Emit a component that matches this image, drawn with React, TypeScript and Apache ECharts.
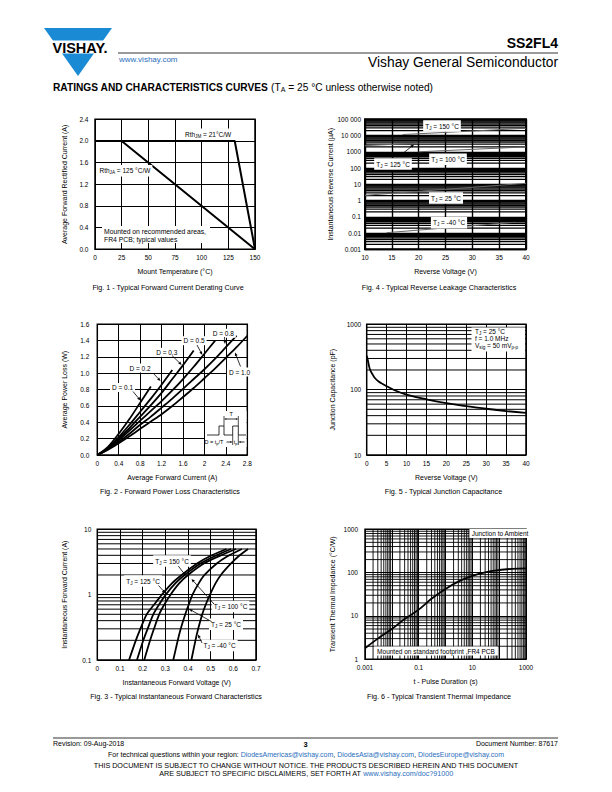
import React, { useEffect, useRef } from 'react';
import * as echarts from 'echarts';

const FONT = '"Liberation Sans", Arial, Helvetica, sans-serif';
const BLUE = '#1a8ad4';
const LINK = '#2a6ebd';

// ===== Fig. 1 - Forward current derating =====
const fig1RthJM: number[][] = [[0, 2.0], [131, 2.0], [150, 0]];
const fig1RthJA: number[][] = [[0, 2.0], [25, 2.0], [150, 0]];

// ===== Fig. 2 - Forward power loss =====
const fig2D01 = [[0, 0], [0.2, 0.1], [0.4, 0.26], [0.6, 0.44], [0.8, 0.64], [1.0, 0.84]];
const fig2D02 = [[0, 0], [0.2, 0.09], [0.4, 0.22], [0.6, 0.37], [0.8, 0.53], [1.0, 0.69], [1.2, 0.86], [1.4, 1.04]];
const fig2D03 = [[0, 0], [0.2, 0.08], [0.4, 0.2], [0.6, 0.33], [0.8, 0.47], [1.0, 0.61], [1.2, 0.76], [1.4, 0.93], [1.6, 1.1], [1.8, 1.28]];
const fig2D05 = [[0, 0], [0.2, 0.075], [0.4, 0.18], [0.6, 0.3], [0.8, 0.42], [1.0, 0.54], [1.2, 0.66], [1.4, 0.79], [1.6, 0.93], [1.8, 1.08], [2.0, 1.24], [2.2, 1.4]];
const fig2D08 = [[0, 0], [0.2, 0.07], [0.4, 0.16], [0.6, 0.26], [0.8, 0.37], [1.0, 0.47], [1.2, 0.58], [1.4, 0.69], [1.6, 0.81], [1.8, 0.93], [2.0, 1.05], [2.2, 1.18], [2.4, 1.32], [2.6, 1.46]];
const fig2D10 = [[0, 0], [0.2, 0.065], [0.4, 0.145], [0.6, 0.23], [0.8, 0.32], [1.0, 0.41], [1.2, 0.5], [1.4, 0.6], [1.6, 0.71], [1.8, 0.82], [2.0, 0.94], [2.2, 1.06], [2.4, 1.19], [2.6, 1.32], [2.8, 1.46]];

// ===== Fig. 3 - Instantaneous forward characteristics [V, A] =====
const fig3T150 = [[0.14, 0.1], [0.17, 0.2], [0.19, 0.3], [0.218, 0.5], [0.25, 0.7], [0.285, 1], [0.33, 1.5], [0.372, 2], [0.44, 3], [0.505, 4], [0.57, 5]];
const fig3T125 = [[0.175, 0.1], [0.203, 0.2], [0.222, 0.3], [0.247, 0.5], [0.272, 0.7], [0.302, 1], [0.345, 1.5], [0.385, 2], [0.455, 3], [0.525, 4], [0.59, 5]];
const fig3T100 = [[0.207, 0.1], [0.233, 0.2], [0.25, 0.3], [0.273, 0.5], [0.295, 0.7], [0.323, 1], [0.362, 1.5], [0.4, 2], [0.47, 3], [0.545, 4], [0.612, 5]];
const fig3T25 = [[0.335, 0.1], [0.355, 0.2], [0.368, 0.3], [0.388, 0.5], [0.403, 0.7], [0.42, 1], [0.448, 1.5], [0.473, 2], [0.527, 3], [0.582, 4], [0.638, 5]];
const fig3Tm40 = [[0.415, 0.1], [0.433, 0.2], [0.445, 0.3], [0.463, 0.5], [0.478, 0.7], [0.497, 1], [0.522, 1.5], [0.545, 2], [0.59, 3], [0.628, 4], [0.665, 5]];

// ===== Fig. 4 - Reverse leakage [V, uA] =====
const fig4Labels = ['0.001', '0.01', '0.1', '1', '10', '100', '1000', '10 000', '100 000'];
const fig4T150 = [[17, 11500], [40, 28000]];
const fig4T125 = [[10, 2400], [20, 3400]];
const fig4T100 = [[20, 1000], [40, 2000]];
const fig4T25 = [[10, 2.1], [40, 11.5]];
const fig4Tm40 = [[14, 0.0105], [38, 0.046]];

// ===== Fig. 5 - Junction capacitance [V, pF] =====
const fig5Cap = [[0, 330], [0.3, 280], [0.8, 205], [1.5, 170], [2, 152], [3, 133], [4, 122], [5, 113], [7, 98], [10, 84], [15, 71], [20, 62], [25, 56], [30, 51], [35, 47], [40, 44]];
const fig5Labels = ['10', '100', '1000'];

// ===== Fig. 6 - Transient thermal impedance [s, °C/W] =====
const fig6Zth = [[0.001, 1.8], [0.003, 3.0], [0.01, 5], [0.03, 8.5], [0.1, 14], [0.3, 25], [1, 42], [3, 62], [10, 84], [30, 102], [100, 115], [300, 122], [1000, 125]];
const fig6XLabels = ['0.001', '', '0.1', '', '10', '', '1000'];
const fig6YLabels = ['1', '10', '100', '1000'];
const fig3YLabels = ['0.1', '1', '10'];

function logMinor(minExp: number, maxExp: number): number[] {
  const out: number[] = [];
  for (let e = minExp; e < maxExp; e++) for (let m = 2; m <= 9; m++) out.push(m * Math.pow(10, e));
  return out;
}

const lblByExp = (labels: string[], minExp: number) => (v: number) => {
  const i = Math.round(Math.log10(v)) - minExp;
  return labels[i] ?? '';
};

function gridLines(idx: number, segs: number[][], width: number) {
  return {
    type: 'custom', xAxisIndex: idx, yAxisIndex: idx, silent: true, z: 1,
    encode: { x: [0, 2], y: [1, 3] },
    data: segs,
    renderItem: (_p: any, api: any) => {
      const a = api.coord([api.value(0), api.value(1)]);
      const b = api.coord([api.value(2), api.value(3)]);
      return { type: 'line', shape: { x1: a[0], y1: a[1], x2: b[0], y2: b[1] }, style: { stroke: '#000', lineWidth: width } };
    },
  };
}

const curve = (idx: number, data: number[][], o: any = {}) => ({
  type: 'line', xAxisIndex: idx, yAxisIndex: idx, data, symbol: 'none', showSymbol: false,
  smooth: o.smooth ?? false, z: 3, silent: true,
  lineStyle: { color: o.color ?? '#000', width: o.width ?? 1.8 },
});

const labelBase = { color: '#000', fontFamily: FONT, fontSize: 6.5 };
const nameStyle = { color: '#000', fontFamily: FONT, fontSize: 7 };

function xAx(gi: number, o: any) {
  return {
    gridIndex: gi, type: o.type ?? 'value', min: o.min, max: o.max, interval: o.interval, logBase: 10,
    axisLine: { show: false }, axisTick: { show: false },
    splitLine: { show: true, lineStyle: { color: '#000', width: o.sw ?? 1 } },
    axisLabel: { ...labelBase, margin: 4.5, formatter: o.fmt },
    name: o.name, nameLocation: 'middle', nameGap: o.gap ?? 19, nameTextStyle: nameStyle,
  };
}
function yAx(gi: number, o: any) {
  return {
    gridIndex: gi, type: o.type ?? 'value', min: o.min, max: o.max, interval: o.interval, logBase: 10,
    axisLine: { show: false }, axisTick: { show: false },
    splitLine: { show: true, lineStyle: { color: '#000', width: o.sw ?? 1 } },
    axisLabel: { ...labelBase, margin: o.margin ?? 6, formatter: o.fmt },
    name: o.name, nameLocation: 'middle', nameGap: o.gap ?? 28, nameTextStyle: nameStyle,
  };
}

const rich = (fs = 6.5, extra: any = {}) => ({
  n: { fontFamily: FONT, fontSize: fs, lineHeight: fs + 3, fill: '#000' },
  s: { fontFamily: FONT, fontSize: fs * 0.72, lineHeight: fs * 0.72, verticalAlign: 'bottom', fill: '#000' },
  ...extra,
});

function txt(x: number, y: number, text: string, o: any = {}) {
  const style: any = {
    text, fontFamily: FONT, fontSize: o.fs ?? 6.5, fontWeight: o.fw ?? 'normal', fill: o.fill ?? '#000',
    align: o.align ?? 'center', verticalAlign: 'middle',
  };
  if (o.bg) { style.backgroundColor = '#fff'; style.padding = o.pad ?? [1, 2]; }
  if (o.rich) style.rich = o.rich;
  return { type: 'text', x, y, z: o.z ?? 102, silent: true, style };
}

function arrow(x1: number, y1: number, x2: number, y2: number, head = 3.5) {
  const dx = x2 - x1, dy = y2 - y1;
  const L = Math.hypot(dx, dy) || 1;
  const ux = dx / L, uy = dy / L;
  const bx = x2 - ux * head, by = y2 - uy * head;
  const hw = head * 0.42;
  return [
    { type: 'line', z: 103, silent: true, shape: { x1, y1, x2: bx, y2: by }, style: { stroke: '#000', lineWidth: 0.8 } },
    { type: 'polygon', z: 103, silent: true, shape: { points: [[x2, y2], [bx - uy * hw, by + ux * hw], [bx + uy * hw, by - ux * hw]] }, style: { fill: '#000' } },
  ];
}

const sub = (main: string, s: string, rest: string) => `{n|${main}}{s|${s}}{n|${rest}}`;

function buildOption() {
  const grids = [
    { left: 95, top: 119.3, width: 160, height: 130 },
    { left: 97.3, top: 324.3, width: 150, height: 130.7 },
    { left: 97.3, top: 529.3, width: 158.7, height: 130.7 },
    { left: 365, top: 119.3, width: 161, height: 130, bw: 2 },
    { left: 366.7, top: 324.3, width: 159.3, height: 130.7 },
    { left: 365, top: 529.3, width: 161, height: 130 },
  ].map((g) => ({
    left: g.left, top: g.top, width: g.width, height: g.height, show: true,
    borderColor: '#000', borderWidth: (g as any).bw ?? 1.5, backgroundColor: 'rgba(0,0,0,0)', containLabel: false,
  }));

  const f1 = (v: number) => v.toFixed(1);
  const xAxis = [
    xAx(0, { min: 0, max: 150, interval: 25, name: 'Mount Temperature (°C)' }),
    xAx(1, { min: 0, max: 2.8, interval: 0.4, name: 'Average Forward Current (A)' }),
    xAx(2, { min: 0, max: 0.7, interval: 0.1, name: 'Instantaneous Forward Voltage (V)' }),
    xAx(3, { min: 10, max: 40, interval: 5, name: 'Reverse Voltage (V)', sw: 1.4 }),
    xAx(4, { min: 0, max: 40, interval: 5, name: 'Reverse Voltage (V)' }),
    xAx(5, { type: 'log', min: 0.001, max: 1000, name: 't - Pulse Duration (s)', fmt: lblByExp(fig6XLabels, -3) }),
  ];
  const yAxis = [
    yAx(0, { min: 0, max: 2.4, interval: 0.4, fmt: f1, name: 'Average Forward Rectified Current (A)', gap: 27, margin: 6.5 }),
    yAx(1, { min: 0, max: 1.6, interval: 0.2, fmt: f1, name: 'Average Power Loss (W)', gap: 29, margin: 8 }),
    yAx(2, { type: 'log', min: 0.1, max: 10, fmt: lblByExp(fig3YLabels, -1), name: 'Instantaneous Forward Current (A)', gap: 29.5, margin: 6 }),
    yAx(3, { type: 'log', min: 0.001, max: 100000, fmt: lblByExp(fig4Labels, -3), name: 'Instantaneous Reverse Current (µA)', gap: 29, margin: 4, sw: 1.3 }),
    yAx(4, { type: 'log', min: 10, max: 1000, fmt: lblByExp(fig5Labels, 1), name: 'Junction Capacitance (pF)', gap: 31, margin: 5.5 }),
    yAx(5, { type: 'log', min: 1, max: 1000, fmt: lblByExp(fig6YLabels, 0), name: 'Transient Thermal Impedance (°C/W)', gap: 29, margin: 7 }),
  ];

  const series: any[] = [
    // minor log grid lines
    gridLines(2, logMinor(-1, 1).map((v) => [0, v, 0.7, v]), 1),
    gridLines(3, logMinor(-3, 5).map((v) => [10, v, 40, v]), 1.3),
    gridLines(4, logMinor(1, 3).map((v) => [0, v, 40, v]), 1),
    gridLines(5, logMinor(0, 3).map((v) => [0.001, v, 1000, v]), 0.9),
    gridLines(5, logMinor(-3, 3).map((v) => [v, 1, v, 1000]), 0.9),
    // Fig 1
    curve(0, fig1RthJM, { width: 2 }),
    curve(0, fig1RthJA, { width: 2 }),
    // Fig 2
    curve(1, fig2D01, { smooth: 0.3 }),
    curve(1, fig2D02, { smooth: 0.3 }),
    curve(1, fig2D03, { smooth: 0.3 }),
    curve(1, fig2D05, { smooth: 0.3 }),
    curve(1, fig2D08, { smooth: 0.3 }),
    curve(1, fig2D10, { smooth: 0.3 }),
    // Fig 3
    curve(2, fig3T150, { smooth: 0.3 }),
    curve(2, fig3T125, { smooth: 0.3 }),
    curve(2, fig3T100, { smooth: 0.3 }),
    curve(2, fig3T25, { smooth: 0.3 }),
    curve(2, fig3Tm40, { smooth: 0.3 }),
    // Fig 4
    curve(3, fig4T150, { color: '#666', width: 1 }),
    curve(3, fig4T125, { color: '#666', width: 1 }),
    curve(3, fig4T100, { color: '#666', width: 1 }),
    curve(3, fig4T25, { color: '#666', width: 1 }),
    curve(3, fig4Tm40, { color: '#666', width: 1 }),
    // Fig 5
    curve(4, fig5Cap, { smooth: 0.4 }),
    // Fig 6
    curve(5, fig6Zth, { smooth: 0.4 }),
  ];

  const R = rich(6.5);
  const graphic: any[] = [
    // ---- header ----
    { type: 'polygon', z: 100, silent: true, shape: { points: [[44, 28], [112, 28], [78, 76]] }, style: { fill: BLUE } },
    { type: 'rect', z: 100, silent: true, shape: { x: 40, y: 40.5, width: 76, height: 13 }, style: { fill: '#fff' } },
    txt(52.5, 47.5, 'VISHAY.', { fs: 14.5, fw: 'bold', align: 'left' }),
    { type: 'line', z: 100, silent: true, shape: { x1: 118, y1: 53, x2: 558, y2: 53 }, style: { stroke: '#000', lineWidth: 0.8 } },
    txt(119, 59.5, 'www.vishay.com', { fs: 8, align: 'left', fill: LINK }),
    txt(558, 42.5, 'SS2FL4', { fs: 14, fw: 'bold', align: 'right' }),
    txt(558, 62.5, 'Vishay General Semiconductor', { fs: 13.8, align: 'right' }),
    txt(53, 87, '{b|RATINGS AND CHARACTERISTICS CURVES }{n|(T}{s|A}{n| = 25 °C unless otherwise noted)}', {
      align: 'left', rich: {
        b: { fontFamily: FONT, fontSize: 10.2, fontWeight: 'bold', lineHeight: 12, fill: '#000' },
        n: { fontFamily: FONT, fontSize: 10.2, lineHeight: 12, fill: '#000' },
        s: { fontFamily: FONT, fontSize: 7, lineHeight: 7, verticalAlign: 'bottom', fill: '#000' },
      },
    }),

    // ---- captions ----
    txt(168, 287, 'Fig. 1 - Typical Forward Current Derating Curve', { fs: 7.2 }),
    txt(439, 287, 'Fig. 4 - Typical Reverse Leakage Characteristics', { fs: 7.2 }),
    txt(170, 491.5, 'Fig. 2 - Forward Power Loss Characteristics', { fs: 7.2 }),
    txt(443.5, 491.5, 'Fig. 5 - Typical Junction Capacitance', { fs: 7.2 }),
    txt(176, 696.5, 'Fig. 3 - Typical Instantaneous Forward Characteristics', { fs: 7.2 }),
    txt(439, 696.5, 'Fig. 6 - Typical Transient Thermal Impedance', { fs: 7.2 }),

    // ---- Fig 1 annotations ----
    txt(183, 134.3, sub('Rth', 'JM', ' = 21°C/W'), { align: 'left', bg: true, rich: R }),
    txt(97.5, 170.7, sub('Rth', 'JA', ' = 125 °C/W'), { align: 'left', bg: true, rich: R }),
    { type: 'rect', z: 101, silent: true, shape: { x: 102, y: 226, width: 108, height: 17 }, style: { fill: '#fff' } },
    txt(104, 231.5, 'Mounted on recommended areas,', { fs: 6.8, align: 'left' }),
    txt(104, 239, 'FR4 PCB; typical values', { fs: 6.8, align: 'left' }),

    // ---- Fig 4 annotations ----
    txt(442, 126, sub('T', 'J', ' = 150 °C'), { bg: true, rich: R }),
    txt(393, 164, sub('T', 'J', ' = 125 °C'), { bg: true, rich: R }),
    txt(448, 159.3, sub('T', 'J', ' = 100 °C'), { bg: true, rich: R }),
    txt(446, 198, sub('T', 'J', ' = 25 °C'), { bg: true, rich: R }),
    txt(449, 222.7, sub('T', 'J', ' = -40 °C'), { bg: true, rich: R }),
    ...arrow(403.3, 153, 414, 144.5),

    // ---- Fig 2 annotations ----
    txt(122.5, 387.5, 'D = 0.1', { bg: true }),
    ...arrow(133, 391.5, 140.5, 400.5),
    txt(140, 368, 'D = 0.2', { bg: true }),
    ...arrow(153, 373, 160.5, 381),
    txt(166.7, 352.3, 'D = 0.3', { bg: true }),
    ...arrow(172, 355.5, 181.7, 365),
    txt(194, 340.7, 'D = 0.5', { bg: true }),
    ...arrow(197, 345, 202.3, 355),
    txt(223.3, 333.3, 'D = 0.8', { bg: true }),
    ...arrow(224.5, 337, 225, 344),
    txt(239.5, 372, 'D = 1.0', { bg: true }),
    ...arrow(240.5, 366.5, 235, 352.5),
    // inset pulse diagram
    { type: 'rect', z: 101, silent: true, shape: { x: 205, y: 411, width: 41.5, height: 36 }, style: { fill: '#fff' } },
    { type: 'polyline', z: 102, silent: true, shape: { points: [[207, 435], [219, 435], [219, 426], [224, 426], [224, 435], [232.7, 435], [232.7, 426], [238.3, 426], [238.3, 435], [246, 435]] }, style: { stroke: '#000', lineWidth: 0.8, fill: null } },
    { type: 'line', z: 102, silent: true, shape: { x1: 224, y1: 426, x2: 224, y2: 416 }, style: { stroke: '#000', lineWidth: 0.7 } },
    { type: 'line', z: 102, silent: true, shape: { x1: 238.3, y1: 426, x2: 238.3, y2: 416 }, style: { stroke: '#000', lineWidth: 0.7 } },
    ...arrow(231.2, 419, 224, 419, 2.5),
    ...arrow(231.2, 419, 238.3, 419, 2.5),
    txt(231.2, 414.2, 'T', { fs: 5.5 }),
    { type: 'line', z: 102, silent: true, shape: { x1: 232.7, y1: 435, x2: 232.7, y2: 445 }, style: { stroke: '#000', lineWidth: 0.7 } },
    { type: 'line', z: 102, silent: true, shape: { x1: 238.3, y1: 435, x2: 238.3, y2: 445 }, style: { stroke: '#000', lineWidth: 0.7 } },
    ...arrow(226.5, 442, 232.7, 442, 2.5),
    ...arrow(244.5, 442, 238.3, 442, 2.5),
    txt(235.5, 441.5, sub('t', 'p', ''), { rich: rich(5.5) }),
    txt(214, 441.5, '{n|D = t}{s|p}{n|/T}', { rich: rich(5.5) }),

    // ---- Fig 5 annotations ----
    { type: 'rect', z: 101, silent: true, shape: { x: 471.5, y: 327.5, width: 53.5, height: 24 }, style: { fill: '#fff' } },
    txt(475, 331.5, sub('T', 'J', ' = 25 °C'), { align: 'left', rich: R }),
    txt(475, 338.3, 'f = 1.0 MHz', { align: 'left' }),
    txt(475, 345, '{n|V}{s|sig}{n| = 50 mV}{s|p-p}', { align: 'left', rich: R }),

    // ---- Fig 3 annotations ----
    txt(172, 561, sub('T', 'J', ' = 150 °C'), { bg: true, rich: R }),
    ...arrow(178.3, 566, 185.5, 575.5),
    txt(143, 581, sub('T', 'J', ' = 125 °C'), { bg: true, rich: R }),
    ...arrow(158.5, 585.5, 165.3, 593),
    txt(230.5, 606.5, sub('T', 'J', ' = 100 °C'), { bg: true, rich: R }),
    ...arrow(214, 604, 191.5, 579),
    txt(226, 624.2, sub('T', 'J', ' = 25 °C'), { bg: true, rich: R }),
    ...arrow(211.7, 621.7, 189, 609),
    txt(219.5, 645.5, sub('T', 'J', ' = -40 °C'), { bg: true, rich: R }),
    ...arrow(202, 643, 198, 634.5),

    // ---- Fig 6 annotations ----
    txt(500, 533.5, 'Junction to Ambient', { bg: true }),
    txt(436, 651, 'Mounted on standard footprint ,FR4 PCB', { bg: true, pad: [1, 3] }),

    // ---- footer ----
    { type: 'line', z: 100, silent: true, shape: { x1: 53, y1: 738, x2: 558, y2: 738 }, style: { stroke: '#000', lineWidth: 0.8 } },
    txt(53, 743.5, 'Revision: 09-Aug-2018', { fs: 7, align: 'left' }),
    txt(305.5, 744, '3', { fs: 7.5, fw: 'bold' }),
    txt(558, 743.5, 'Document Number: 87617', { fs: 7, align: 'right' }),
    txt(306, 754, '{k|For technical questions within your region: }{l|DiodesAmericas@vishay.com}{k|, }{l|DiodesAsia@vishay.com}{k|, }{l|DiodesEurope@vishay.com}', {
      rich: { k: { fontFamily: FONT, fontSize: 7, fill: '#000' }, l: { fontFamily: FONT, fontSize: 7, fill: LINK } },
    }),
    txt(306, 765.5, 'THIS DOCUMENT IS SUBJECT TO CHANGE WITHOUT NOTICE. THE PRODUCTS DESCRIBED HEREIN AND THIS DOCUMENT', { fs: 7.2 }),
    txt(306, 773.5, '{k|ARE SUBJECT TO SPECIFIC DISCLAIMERS, SET FORTH AT }{l|www.vishay.com/doc?91000}', {
      rich: { k: { fontFamily: FONT, fontSize: 7.2, fill: '#000' }, l: { fontFamily: FONT, fontSize: 7.2, fill: LINK } },
    }),
  ];

  return {
    animation: false,
    backgroundColor: '#fff',
    textStyle: { fontFamily: FONT },
    grid: grids,
    xAxis,
    yAxis,
    series,
    graphic,
  };
}

export default function App() {
  const ref = useRef<HTMLDivElement>(null);
  useEffect(() => {
    if (!ref.current) return;
    const chart = echarts.init(ref.current, undefined, { renderer: 'svg', width: 612, height: 792 });
    chart.setOption(buildOption() as any);
    return () => chart.dispose();
  }, []);
  return (
    <div
      ref={ref}
      style={{ position: 'absolute', left: 0, top: 0, width: 612, height: 792, background: '#fff' }}
    />
  );
}
